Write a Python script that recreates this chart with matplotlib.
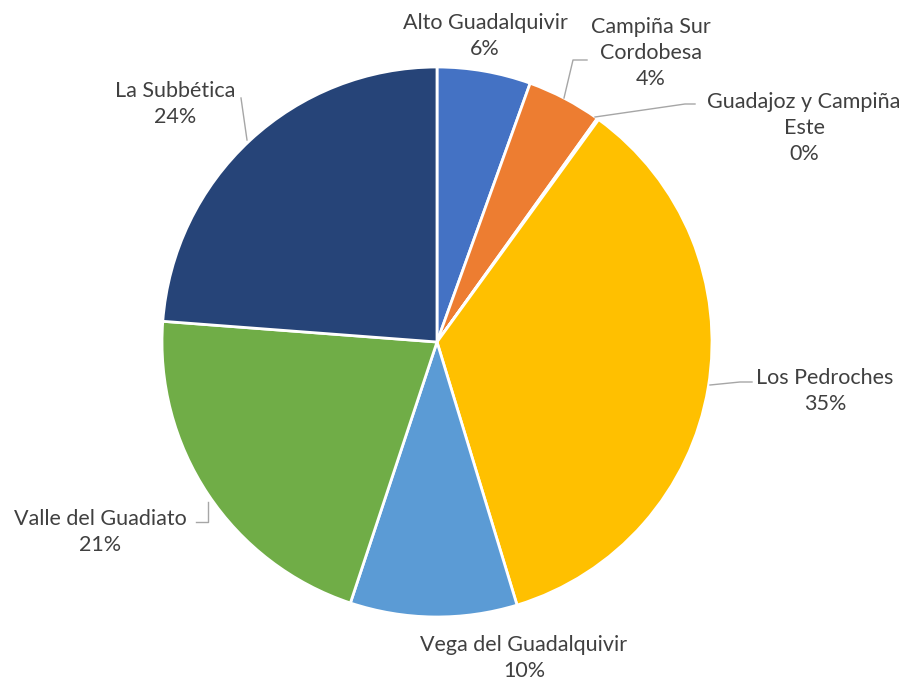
import matplotlib
matplotlib.use("Agg")
import matplotlib.pyplot as plt

# Datos (porcentaje de cada comarca)
comarcas = ["Alto Guadalquivir", "Campiña Sur\nCordobesa", "Guadajoz y Campiña\nEste",
            "Los Pedroches", "Vega del Guadalquivir", "Valle del Guadiato", "La Subbética"]
valores = [5.5, 4.4, 0.1, 35.3, 9.8, 21.1, 23.8]
colores = ["#4472C4", "#ED7D31", "#A5A5A5", "#FFC000", "#5B9BD5", "#70AD47", "#264478"]

# Posiciones de etiquetas (píxeles, origen arriba-izquierda)
pos_etiquetas = [(485, 36), (651, 53), (804, 128), (825, 391), (524, 658), (100, 532), (175, 104)]
guias = [
    None,
    [(564, 98), (573, 60), (587, 60)],
    [(595, 117), (685, 104), (695, 104)],
    [(710, 385), (740, 382), (752, 382)],
    None,
    [(208, 502), (208, 522), (196, 522)],
    [(247, 140), (241, 98)],
]

W, H = 909, 686
fig = plt.figure(figsize=(W / 100, H / 100), dpi=100)
ax = fig.add_axes([0, 0, 1, 1])
ax.axis("off")

ax.pie(valores, colors=colores, startangle=90, counterclock=False,
       center=(437, H - 342), radius=275,
       wedgeprops=dict(edgecolor="white", linewidth=2))
ax.set_xlim(0, W)
ax.set_ylim(0, H)
ax.set_aspect("equal")

for nombre, v, (px, py), g in zip(comarcas, valores, pos_etiquetas, guias):
    ax.text(px, H - py, f"{nombre}\n{v:.0f}%", ha="center", va="center",
            fontsize=15.5, color="#404040", family=["Lato", "DejaVu Sans"],
            linespacing=1.38)
    if g:
        xs = [p[0] for p in g]
        ys = [H - p[1] for p in g]
        ax.plot(xs, ys, color="#A6A6A6", linewidth=1)

fig.savefig("out.png", dpi=100)
